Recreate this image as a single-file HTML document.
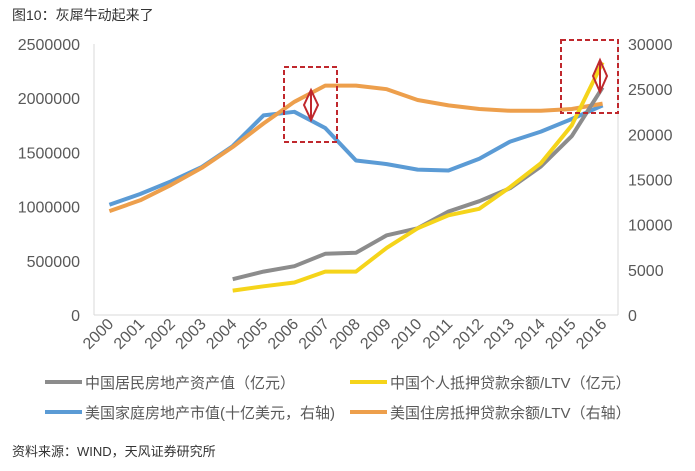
<!DOCTYPE html>
<html><head><meta charset="utf-8"><style>
body{margin:0;background:#fff;font-family:"Liberation Sans","Noto Sans CJK SC",sans-serif;}
svg text{font-family:"Liberation Sans","Noto Sans CJK SC",sans-serif;}
</style></head><body>
<svg id="c" width="695" height="466">
<text x="12" y="20" font-size="14" fill="#333">图10：灰犀牛动起来了</text>
<text x="12" y="456" font-size="13" fill="#333">资料来源：WIND，天风证券研究所</text>
<g id="g"></g>
</svg>
<script>
const years=['2000','2001','2002','2003','2004','2005','2006','2007','2008','2009','2010','2011','2012','2013','2014','2015','2016'];
const chinaAsset=[null,null,null,null,330000,400000,450000,565000,575000,735000,800000,955000,1050000,1170000,1370000,1650000,2100000];
const chinaLoan=[null,null,null,null,225000,265000,300000,400000,400000,620000,800000,920000,980000,1180000,1400000,1750000,2330000];
const usValue=[12200,13400,14800,16400,18700,22100,22500,20700,17100,16700,16100,16000,17300,19200,20300,21700,23200];
const usLoan=[11500,12700,14400,16300,18600,21200,23600,25400,25400,25000,23800,23200,22800,22600,22600,22800,23400];
const leftTicks=[0,500000,1000000,1500000,2000000,2500000];
const rightTicks=[0,5000,10000,15000,20000,25000,30000];
const NS='http://www.w3.org/2000/svg';
const g=document.getElementById('g');
const X0=94,X1=618,Y0=315,Y1=44;
const bw=(X1-X0)/years.length;
const x=i=>X0+bw*(i+0.5);
const yl=v=>Y0-(v/2500000)*(Y0-Y1);
const yr=v=>Y0-(v/30000)*(Y0-Y1);
function el(t,a,txt){const e=document.createElementNS(NS,t);for(const k in a)e.setAttribute(k,a[k]);if(txt!=null)e.textContent=txt;g.appendChild(e);return e;}
let e=el('line',{x1:X0,x2:X1,y1:Y0,y2:Y0,stroke:'#d9d9d9'});

e=el('line',{x1:X0,x2:X0,y1:Y1,y2:Y0,stroke:'#d9d9d9'});

e=el('line',{x1:X1,x2:X1,y1:Y1,y2:Y0,stroke:'#d9d9d9'});

leftTicks.forEach(v=>{const t=el('text',{x:80,y:yl(v)+6,'text-anchor':'end','font-size':16,fill:'#595959'},String(v));
});
rightTicks.forEach(v=>{const t=el('text',{x:628,y:yr(v)+6,'text-anchor':'start','font-size':16,fill:'#595959'},String(v));
});
years.forEach((y,i)=>{const cx=x(i)+5,cy=325;const t=el('text',{x:cx,y:cy,'text-anchor':'end','font-size':16,fill:'#595959',transform:`rotate(-45 ${cx} ${cy})`},y);
});
function line(arr,f,c,name){let d='';arr.forEach((v,i)=>{if(v==null)return;d+=(d?'L':'M')+x(i).toFixed(1)+','+f(v).toFixed(1);});
const p=el('path',{d:d,fill:'none',stroke:c,'stroke-width':4,'stroke-linejoin':'round'});
}
line(usValue,yr,'#5b9bd5','us-home-value-line');
line(usLoan,yr,'#ed9f4c','us-mortgage-ltv-line');
line(chinaAsset,yl,'#8c8c8c','china-asset-line');
line(chinaLoan,yl,'#f5d41a','china-loan-ltv-line');
[[284,67,53,75],[561,40,57,73]].forEach(b=>{const r=el('rect',{x:b[0],y:b[1],width:b[2],height:b[3],fill:'none',stroke:'#c0282d','stroke-width':2,'stroke-dasharray':'5,3'});
});
[[311,90,120],[600,60,92]].forEach(a=>{const p=el('path',{d:`M${a[0]},${a[1]} L${a[0]-7},${(a[1]+a[2])/2} L${a[0]},${a[2]} L${a[0]+7},${(a[1]+a[2])/2} Z M${a[0]},${a[1]} L${a[0]},${a[2]}`,fill:'none',stroke:'#c0282d','stroke-width':2});
});
[['中国居民房地产资产值（亿元）','#8c8c8c',45,382],['中国个人抵押贷款余额/LTV（亿元）','#f5d41a',350,382],['美国家庭房地产市值(十亿美元，右轴)','#5b9bd5',45,412],['美国住房抵押贷款余额/LTV（右轴）','#ed9f4c',350,412]].forEach(l=>{
const s=el('line',{x1:l[2],x2:l[2]+37,y1:l[3],y2:l[3],stroke:l[1],'stroke-width':4});

const t=el('text',{x:l[2]+40,y:l[3]+6,'font-size':15,fill:'#595959'},l[0]);
});
</script>
</body></html>
